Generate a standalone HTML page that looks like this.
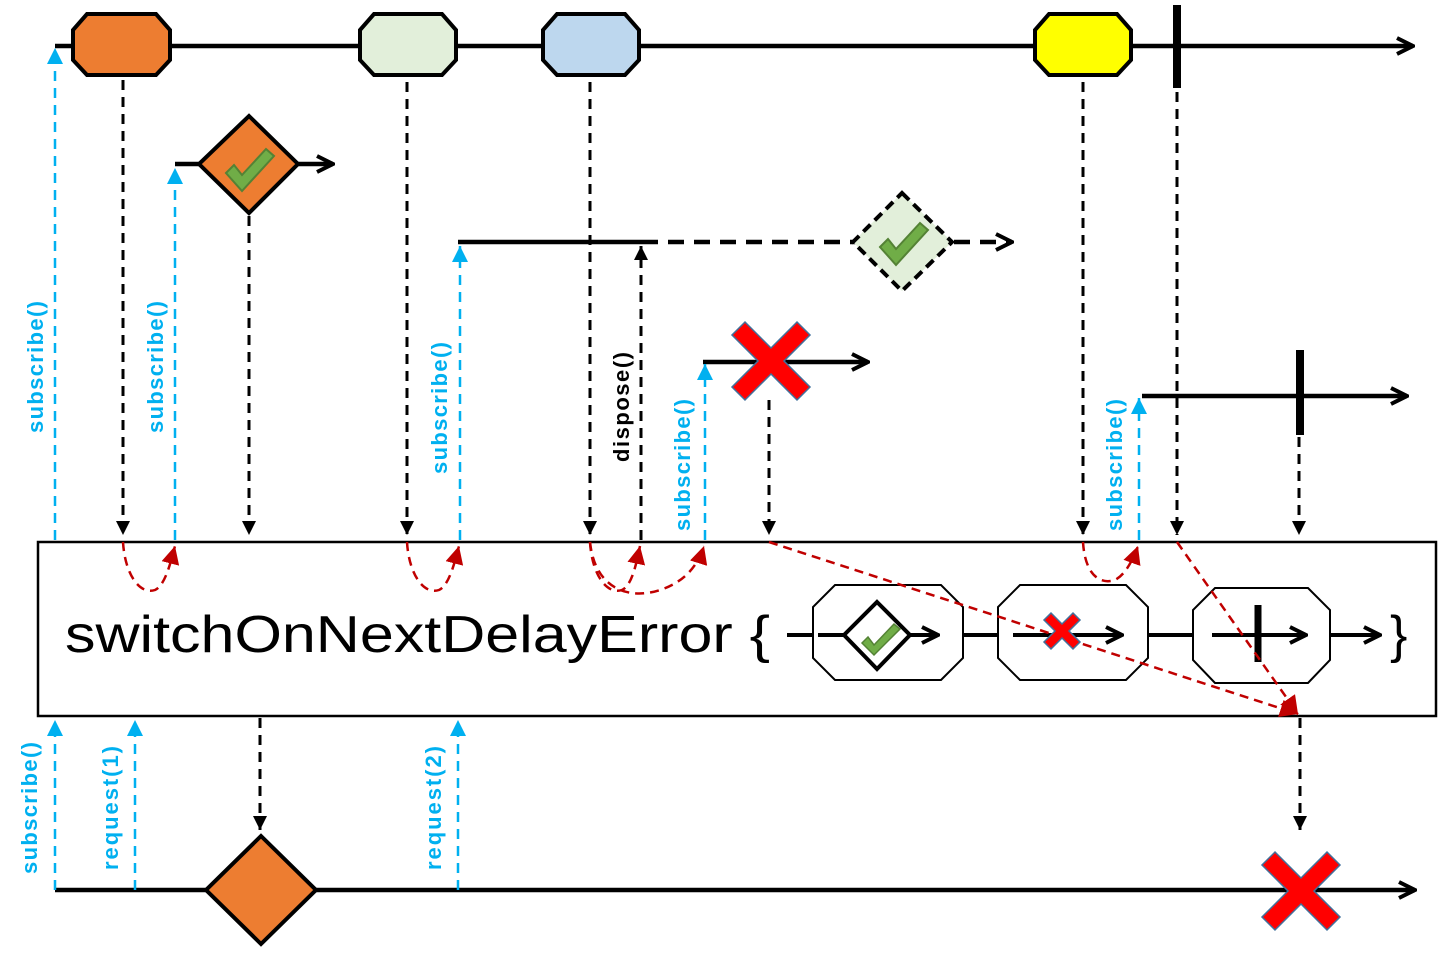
<!DOCTYPE html>
<html><head><meta charset="utf-8"><style>body{margin:0;background:#fff}svg{display:block}</style></head><body>
<svg width="1453" height="961" viewBox="0 0 1453 961" xmlns="http://www.w3.org/2000/svg" font-family="Liberation Sans, sans-serif">
<defs>
<marker id="blk" viewBox="0 0 10 10" markerWidth="14" markerHeight="14" refX="10" refY="5" orient="auto" markerUnits="userSpaceOnUse"><path d="M0,0 L10,5 L0,10z" fill="#000"/></marker>
<marker id="blu" viewBox="0 0 10 10" markerWidth="16" markerHeight="16" refX="10" refY="5" orient="auto" markerUnits="userSpaceOnUse"><path d="M0,0 L10,5 L0,10z" fill="#00b0f0"/></marker>
<marker id="red" viewBox="0 0 10 10" markerWidth="18" markerHeight="18" refX="10" refY="5" orient="auto" markerUnits="userSpaceOnUse"><path d="M0,0 L10,5 L0,10z" fill="#c00000"/></marker>
<marker id="open" viewBox="0 0 10 10" markerWidth="20" markerHeight="20" refX="9" refY="5" orient="auto" markerUnits="userSpaceOnUse"><path d="M1,1 L9,5 L1,9" fill="none" stroke="#000" stroke-width="2"/></marker>
</defs>
<g stroke="#000" stroke-width="4.5" fill="none">
<line x1="55" y1="46" x2="1413" y2="46" marker-end="url(#open)"/>
<line x1="1177" y1="5" x2="1177" y2="88" stroke-width="8"/>
<line x1="175" y1="164" x2="333" y2="164" marker-end="url(#open)"/>
<line x1="458" y1="242" x2="642" y2="242"/>
<line x1="642" y1="242" x2="1012" y2="242" stroke-dasharray="16,10" marker-end="url(#open)"/>
<line x1="703" y1="362" x2="868" y2="362" marker-end="url(#open)"/>
<line x1="1142" y1="396" x2="1407" y2="396" marker-end="url(#open)"/>
<line x1="1300" y1="350" x2="1300" y2="435" stroke-width="8"/>
<line x1="55" y1="890" x2="1415" y2="890" marker-end="url(#open)"/>
</g>
<g stroke="#000" stroke-width="4">
<polygon points="87,14 156,14 170,30 170,60 156,75 87,75 73,60 73,30" fill="#ed7d31"/>
<polygon points="374,14 442,14 456,30 456,60 442,75 374,75 360,60 360,30" fill="#e2efda"/>
<polygon points="557,14 625,14 639,30 639,60 625,75 557,75 543,60 543,30" fill="#bdd7ee"/>
<polygon points="1049,14 1117,14 1131,30 1131,60 1117,75 1049,75 1035,60 1035,30" fill="#ffff00"/>
<polygon points="249,116 298,164 249,213 199,164" fill="#ed7d31"/>
<polygon points="902,193 952,242 902,291 853,242" fill="#e2efda" stroke-dasharray="10,6"/>
<polygon points="261,836 316,890 261,944 206,890" fill="#ed7d31"/>
</g>
<g fill="#70ad47" stroke="#548235" stroke-width="2">
<path d="M226,173 L234,165 L242,175 L266,149 L274,156 L242,191Z"/>
<path d="M880,247 L888,239 L896,249 L920,223 L928,230 L896,265Z"/>
</g>
<g stroke="#000" stroke-width="3" stroke-dasharray="10,7" fill="none">
<line x1="123" y1="80" x2="123" y2="535" marker-end="url(#blk)"/>
<line x1="407" y1="82" x2="407" y2="535" marker-end="url(#blk)"/>
<line x1="590" y1="82" x2="590" y2="535" marker-end="url(#blk)"/>
<line x1="1083" y1="82" x2="1083" y2="535" marker-end="url(#blk)"/>
<line x1="1177" y1="92" x2="1177" y2="535" marker-end="url(#blk)"/>
<line x1="249" y1="216" x2="249" y2="535" marker-end="url(#blk)"/>
<line x1="769" y1="400" x2="769" y2="535" marker-end="url(#blk)"/>
<line x1="1299" y1="437" x2="1299" y2="535" marker-end="url(#blk)"/>
<line x1="641" y1="540" x2="641" y2="246" marker-end="url(#blk)"/>
<line x1="260" y1="718" x2="260" y2="830" marker-end="url(#blk)"/>
<line x1="1300" y1="718" x2="1300" y2="830" marker-end="url(#blk)"/>
</g>
<g stroke="#00b0f0" stroke-width="2.5" stroke-dasharray="10,7" fill="none">
<line x1="55" y1="540" x2="55" y2="48" marker-end="url(#blu)"/>
<line x1="175" y1="540" x2="175" y2="168" marker-end="url(#blu)"/>
<line x1="460" y1="540" x2="460" y2="246" marker-end="url(#blu)"/>
<line x1="705" y1="540" x2="705" y2="364" marker-end="url(#blu)"/>
<line x1="1139" y1="540" x2="1139" y2="398" marker-end="url(#blu)"/>
<line x1="55" y1="890" x2="55" y2="720" marker-end="url(#blu)"/>
<line x1="135" y1="890" x2="135" y2="720" marker-end="url(#blu)"/>
<line x1="458" y1="890" x2="458" y2="720" marker-end="url(#blu)"/>
</g>
<g fill="#00b0f0" font-weight="bold" font-size="22">
<text transform="translate(43,367) rotate(-90)" text-anchor="middle" textLength="132">subscribe()</text>
<text transform="translate(163,367) rotate(-90)" text-anchor="middle" textLength="132">subscribe()</text>
<text transform="translate(447,408) rotate(-90)" text-anchor="middle" textLength="132">subscribe()</text>
<text transform="translate(690,465) rotate(-90)" text-anchor="middle" textLength="132">subscribe()</text>
<text transform="translate(1122,465) rotate(-90)" text-anchor="middle" textLength="132">subscribe()</text>
<text transform="translate(37,808) rotate(-90)" text-anchor="middle" textLength="132">subscribe()</text>
<text transform="translate(118,808) rotate(-90)" text-anchor="middle" textLength="124">request(1)</text>
<text transform="translate(441,808) rotate(-90)" text-anchor="middle" textLength="124">request(2)</text>
</g>
<text transform="translate(629,407) rotate(-90)" text-anchor="middle" font-weight="bold" font-size="22" fill="#000" textLength="110">dispose()</text>
<rect x="38" y="542" width="1398" height="174" fill="#fff" stroke="#000" stroke-width="2.5"/>
<text x="65" y="652" font-size="52" fill="#000" textLength="705" lengthAdjust="spacingAndGlyphs">switchOnNextDelayError {</text>
<text x="1390" y="652" font-size="52" fill="#000">}</text>
<g stroke="#000" stroke-width="4" fill="none">
<line x1="787" y1="635" x2="1380" y2="635" marker-end="url(#open)"/>
</g>
<g stroke="#000" stroke-width="2" fill="#fff">
<polygon points="835,585 941,585 963,607 963,658 941,680 835,680 813,658 813,607"/>
<polygon points="1020,585 1126,585 1148,607 1148,658 1126,680 1020,680 998,658 998,607"/>
<polygon points="1215,588 1308,588 1330,610 1330,660 1308,683 1215,683 1193,660 1193,610"/>
</g>
<g stroke="#000" stroke-width="4" fill="none">
<line x1="818" y1="635" x2="938" y2="635" marker-end="url(#open)"/>
<line x1="1013" y1="635" x2="1122" y2="635" marker-end="url(#open)"/>
<line x1="1212" y1="635" x2="1306" y2="635" marker-end="url(#open)"/>
<line x1="1258" y1="605" x2="1258" y2="662" stroke-width="7"/>
</g>
<polygon points="877,602 910,635 877,669 844,635" fill="#fff" stroke="#000" stroke-width="4"/>
<path d="M862,643 L868,637 L874,645 L894,624 L900,629 L874,655Z" fill="#70ad47" stroke="#548235" stroke-width="1.5"/>
<g stroke="#c00000" stroke-width="2.5" stroke-dasharray="9,6" fill="none">
<path d="M123,542 C125,575 140,595 155,590 C165,585 170,565 175,546" marker-end="url(#red)"/>
<path d="M407,542 C409,575 424,595 439,590 C449,585 454,565 459,546" marker-end="url(#red)"/>
<path d="M590,542 C592,575 607,595 622,590 C632,585 636,565 640,546" marker-end="url(#red)"/>
<path d="M590,542 C595,590 630,600 660,590 C685,582 698,565 704,546" marker-end="url(#red)"/>
<path d="M1083,542 C1085,575 1100,585 1115,580 C1125,575 1133,560 1138,546" marker-end="url(#red)"/>
<line x1="769" y1="542" x2="1298" y2="714" marker-end="url(#red)"/>
<line x1="1177" y1="542" x2="1298" y2="714" marker-end="url(#red)"/>
</g>
<g fill="#ff0000" stroke="#41719c" stroke-width="1.5">
<path d="M745,322 L771,348 L797,322 L810,335 L784,361 L810,387 L797,400 L771,374 L745,400 L732,387 L758,361 L732,335Z"/>
<path d="M1275,852 L1301,878 L1327,852 L1340,865 L1314,891 L1340,917 L1327,930 L1301,904 L1275,930 L1262,917 L1288,891 L1262,865Z"/>
<path d="M1051,613 L1062,624 L1073,613 L1080,620 L1069,631 L1080,642 L1073,649 L1062,638 L1051,649 L1044,642 L1055,631 L1044,620Z"/>
</g>
</svg>
</body></html>
